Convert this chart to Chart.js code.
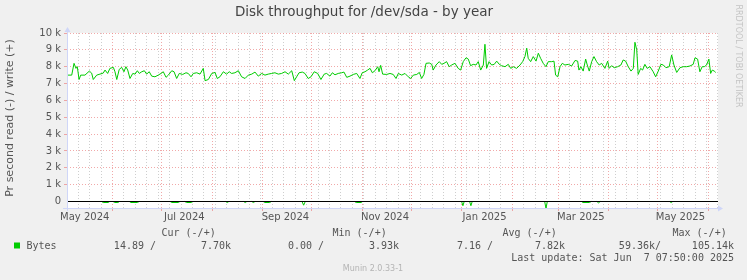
<!DOCTYPE html>
<html>
<head>
<meta charset="utf-8">
<title>Disk throughput for /dev/sda - by year</title>
<script src="https://cdn.jsdelivr.net/npm/chart.js@4.4.1/dist/chart.umd.min.js"></script>
<style>
  html, body { margin: 0; padding: 0; background: #f0f0f0; }
  canvas { display: block; }
</style>
</head>
<body>
<canvas id="chart" width="747" height="280"></canvas>
<script>
"use strict";

// x values are days since the start of the graph (3 May 2024 08:00 UTC)
let writeDays = [
  0.8, 3.7, 5.1, 6.3, 7.1, 8.2, 9.2, 11.8, 14.5, 15.9, 16.9, 19.0, 21.0, 23.0, 24.1, 25.7, 27.1, 29.2, 30.2, 31.3,
  32.8, 34.3, 35.7, 36.9, 38.0, 39.4, 41.1, 42.5, 43.9, 45.1, 46.6, 48.2, 49.6, 51.2, 52.7, 54.7, 56.7, 58.4, 59.8, 61.5,
  62.9, 65.0, 66.4, 68.0, 69.6, 71.7, 73.7, 75.1, 76.8, 78.2, 80.3, 82.3, 84.3, 85.4, 87.4, 89.5, 91.5, 92.9, 94.5, 96.6,
  98.6, 100.2,
  101.7, 103.7, 105.8, 107.8, 109.9, 111.9, 114.0, 116.0, 118.0, 120.1, 122.1, 124.1, 126.2, 128.2, 130.3, 132.3, 134.4, 136.4, 138.5, 140.1,
  141.5, 143.0, 145.0, 146.6, 148.6, 150.3, 152.3, 154.4, 156.4, 158.4, 159.9, 161.9, 163.4, 165.0, 167.0, 169.1, 170.5, 172.2, 174.2, 176.2,
  178.3, 180.3, 181.7, 183.4, 185.0, 186.5, 187.9, 189.5, 191.2, 192.0, 193.0, 194.2, 196.7,
  198.7, 200.7, 202.4, 203.8, 205.9, 207.9, 209.9, 211.4, 213.0, 215.1, 216.7, 218.1, 219.5, 220.8, 222.8, 224.3, 225.2, 226.9, 228.9, 230.4,
  231.8, 233.4, 235.0, 236.5, 238.5, 240.5, 242.0, 243.6, 245.3, 246.7, 248.1, 249.7, 251.4, 252.8, 254.3, 255.9, 256.9, 257.9, 259.4, 261.0,
  262.6, 264.1, 265.7, 267.1, 269.2, 271.2, 272.7, 274.3, 276.3, 278.4, 280.0, 281.4, 282.5, 283.4, 284.9, 286.5, 288.2, 289.6, 291.0, 292.6,
  294.3, 295.7, 297.8, 299.2, 300.2, 301.5,
  302.9, 304.3, 305.9, 308.0, 310.0, 312.1, 313.7, 314.5, 315.7, 317.1, 318.6, 319.6, 320.8, 322.3, 323.7, 325.3, 326.9, 328.4, 330.4, 332.1,
  333.0, 334.5, 336.1, 338.2, 340.2, 341.6, 343.1, 344.7, 346.4, 347.8, 348.8, 349.9, 350.8, 352.3, 353.5, 354.9, 356.3, 358.0, 360.0, 361.5,
  363.1, 364.7, 366.2, 367.8, 369.8, 371.3, 372.7, 374.4, 376.4, 378.4, 380.5, 382.5, 384.5, 385.6, 387.2, 388.6, 390.0, 391.3, 392.7, 394.1,
  395.2, 396.2, 397.4, 398.3
];
let writeBytes = [
  7500, 7500, 8200, 7900, 8000, 7240, 7500, 7500, 7740, 7620, 7240, 7500, 7560, 7620, 7800, 7600, 7900, 7960, 7700, 7240,
  7840, 7960, 7700, 8000, 7800, 7300, 7600, 7560, 7760, 7600, 7700, 7760, 7560, 7700, 7440, 7400, 7500, 7600, 7700, 7370,
  7500, 7760, 7700, 7300, 7600, 7540, 7640, 7600, 7400, 7600, 7640, 7560, 7900, 7170, 7240, 7600, 7660, 7300, 7400, 7700,
  7560, 7700,
  7600, 7640, 7760, 7400, 7300, 7500, 7560, 7680, 7440, 7600, 7500, 7560, 7600, 7640, 7560, 7600, 7700, 7560, 7760, 7170,
  7400, 7640, 7680, 7600, 7300, 7400, 7700, 7600, 7240, 7560, 7600, 7440, 7640, 7520, 7600, 7640, 7680, 7370, 7440, 7540,
  7600, 7300, 7640, 7700, 7800, 7900, 7640, 7760, 8000, 7700, 8080, 7560, 7540,
  7600, 7540, 7300, 7600, 7500, 7600, 7400, 7300, 7500, 7540, 7660, 7300, 7540, 8200, 8220, 8140, 7800, 8100, 8300, 8140,
  8200, 8300, 8000, 8100, 8200, 7900, 7800, 8300, 8530, 8450, 8060, 8140, 8100, 8300, 7800, 8100, 9330, 7900, 8300, 8100,
  8140, 8330, 8140, 8060, 8000, 8140, 7900, 8000, 7900, 8100, 8300, 8600, 9100, 8500, 8300, 8600, 8330, 8800, 8500, 8200,
  8000, 8300, 8300, 8330, 7500, 7400,
  8000, 8200, 8100, 8140, 8040, 8370, 8330, 7800, 8000, 7740, 8450, 8100, 7740, 8300, 8600, 8300, 8100, 8200, 7900, 8330,
  7900, 8060, 7940, 8000, 8100, 8400, 8330, 8000, 7740, 7900, 9450, 9000, 7540, 7900, 7800, 8140, 7900, 8000, 7700, 7400,
  7740, 8140, 8100, 7940, 8000, 8700, 8100, 7660, 7940, 8000, 8000, 8040, 8140, 8530, 8450, 7700, 8000, 8000, 8100, 8450,
  7600, 7800, 7740, 7660
];

// reads are drawn below zero
let readDays = [
  0.8, 22, 23, 26, 27, 29, 30, 32, 33, 39, 40, 44, 45, 64, 65, 69, 70, 73, 74, 77, 78, 98, 99, 100,
  109, 110, 111, 114, 115, 116, 121, 122, 125, 126, 144.8, 145.8, 146.8, 177, 178, 181, 182,
  242.6, 243.4, 244.2, 247.5, 248.3, 249.1, 293.5, 294.3, 295.1, 316, 317, 321, 322, 325.5, 326.5, 327.5,
  370, 371, 372, 399.7
];
let readBytes = [
  0, 0, -60, -60, 0, 0, -60, -60, 0, 0, -60, -60, 0, 0, -60, -60, 0, 0, -60, -60, 0, 0, -60, 0,
  0, -60, 0, 0, -60, 0, 0, -60, -60, 0, 0, -220, 0, 0, -60, -60, 0,
  0, -250, 0, 0, -250, 0, 0, -420, 0, 0, -60, -60, 0, 0, -80, 0,
  0, -60, 0, 0
];

let yLabels = ["0", "1 k", "2 k", "3 k", "4 k", "5 k", "6 k", "7 k", "8 k", "9 k", "10 k"];
let monthLines = ["2024-06", "2024-07", "2024-08", "2024-09", "2024-10", "2024-11", "2024-12",
  "2025-01", "2025-02", "2025-03", "2025-04", "2025-05", "2025-06"];
let monthLabels = ["May 2024", "Jul 2024", "Sep 2024", "Nov 2024", "Jan 2025", "Mar 2025", "May 2025"];

let legendHeads = ["Cur (-/+)", "Min (-/+)", "Avg (-/+)", "Max (-/+)"];
let legendRead = ["14.89 /", "0.00 /", "7.16 /", "59.36k/"];
let legendWrite = ["7.70k", "3.93k", "7.82k", "105.14k"];
let lastUpdate = "Last update: Sat Jun  7 07:50:00 2025";

const MONTHS = ["Jan", "Feb", "Mar", "Apr", "May", "Jun", "Jul", "Aug", "Sep", "Oct", "Nov", "Dec"];
const graphStart = Date.UTC(2024, 4, 3, 8, 0);
const X_MIN = 0.8;
const X_MAX = 399.7;

function dayOf(y, m, d) {
  return (Date.UTC(y, m, d) - graphStart) / 86400000;
}

//grid ticks for the time axis
let xTicks = [];
monthLines.forEach(function (s) {
  let parts = s.split("-");
  xTicks.push({ value: dayOf(+parts[0], +parts[1] - 1, 1), kind: "month" });
});
for (let d = dayOf(2024, 4, 4); d < X_MAX; d += 7) {
  let clash = xTicks.some(t => Math.abs(t.value - d) < 0.5);
  if (d > X_MIN && !clash) {
    xTicks.push({ value: d, kind: "week" });
  }
}
monthLabels.forEach(function (s) {
  let parts = s.split(" ");
  xTicks.push({ value: dayOf(+parts[1], MONTHS.indexOf(parts[0]), 15), kind: "label", text: s });
});
xTicks.sort((a, b) => a.value - b.value);

let yTicks = [];
for (let v = 0; v <= 10000; v += 500) yTicks.push(v);

const MGRID = "rgba(236, 140, 140, 0.75)";
const GRID = "rgba(190, 190, 190, 0.75)";
const AXIS = "#cfd6f8";
const FONT = "#555555";
const GREEN = "#00cc00";

function xGrid(tick) {
  if (!tick) return "transparent";
  if (tick.kind === "month") return MGRID;
  if (tick.kind === "week") return GRID;
  return "transparent";
}

function yGrid(tick) {
  if (!tick || tick.value === 0) return "transparent";
  return tick.value % 1000 === 0 ? MGRID : GRID;
}

let muninPlugin = {
  id: "munin",
  beforeDraw(chart) {
    let ctx = chart.ctx;
    let a = chart.chartArea;
    ctx.save();
    ctx.fillStyle = "#f0f0f0";
    ctx.fillRect(0, 0, chart.width, chart.height);
    ctx.fillStyle = "#ffffff";
    ctx.fillRect(a.left, a.top, a.right - a.left, a.bottom - a.top);
    ctx.restore();
  },
  afterDatasetsDraw(chart) {
    let ctx = chart.ctx;
    let a = chart.chartArea;
    let y0 = Math.floor(chart.scales.y.getPixelForValue(0)) + 0.5;
    ctx.save();
    // zero line
    ctx.strokeStyle = "#000000";
    ctx.lineWidth = 1;
    ctx.beginPath();
    ctx.moveTo(a.left, y0);
    ctx.lineTo(a.right, y0);
    ctx.stroke();
    // axes with arrows
    ctx.strokeStyle = AXIS;
    ctx.fillStyle = AXIS;
    ctx.beginPath();
    ctx.moveTo(a.left - 4, a.bottom + 0.5);
    ctx.lineTo(a.right + 2, a.bottom + 0.5);
    ctx.moveTo(a.left + 0.5, a.bottom + 3);
    ctx.lineTo(a.left + 0.5, a.top - 3);
    ctx.stroke();
    ctx.beginPath();
    ctx.moveTo(a.right + 5, a.bottom + 0.5);
    ctx.lineTo(a.right, a.bottom - 2.5);
    ctx.lineTo(a.right, a.bottom + 3.5);
    ctx.closePath();
    ctx.fill();
    ctx.beginPath();
    ctx.moveTo(a.left + 0.5, a.top - 6);
    ctx.lineTo(a.left - 2.5, a.top - 1);
    ctx.lineTo(a.left + 3.5, a.top - 1);
    ctx.closePath();
    ctx.fill();
    ctx.restore();
  },
  afterDraw(chart) {
    let ctx = chart.ctx;
    ctx.save();
    ctx.textBaseline = "middle";

    ctx.fillStyle = "#444444";
    ctx.font = "13.5px 'DejaVu Sans'";
    ctx.textAlign = "center";
    ctx.fillText("Disk throughput for /dev/sda - by year", 364, 12);

    ctx.save();
    ctx.translate(10, 118);
    ctx.rotate(-Math.PI / 2);
    ctx.fillStyle = FONT;
    ctx.font = "11px 'DejaVu Sans'";
    ctx.fillText("Pr second read (-) / write (+)", 0, 0);
    ctx.restore();

    ctx.save();
    ctx.translate(738.5, 56);
    ctx.rotate(Math.PI / 2);
    ctx.fillStyle = "#c4c4c4";
    ctx.font = "8px 'DejaVu Sans'";
    ctx.fillText("RRDTOOL / TOBI OETIKER", 0, 0);
    ctx.restore();

    // legend table
    ctx.fillStyle = FONT;
    ctx.font = "10px 'DejaVu Sans Mono'";
    let headX = [162, 333, 503, 673];
    let readX = [156, 324, 493, 661];
    let writeX = [231, 399, 565, 734];
    ctx.textAlign = "left";
    for (let i = 0; i < legendHeads.length; i++) {
      ctx.fillText(legendHeads[i], headX[i] - 0.5, 233);
    }
    ctx.fillText("Bytes", 26.5, 246);
    ctx.textAlign = "right";
    for (let i = 0; i < legendRead.length; i++) {
      ctx.fillText(legendRead[i], readX[i], 246);
      ctx.fillText(legendWrite[i], writeX[i], 246);
    }
    ctx.fillText(lastUpdate, 734, 258);
    ctx.fillStyle = GREEN;
    ctx.fillRect(14, 242.5, 6, 6);

    ctx.fillStyle = "#b4b4b4";
    ctx.font = "8px 'DejaVu Sans'";
    ctx.textAlign = "center";
    ctx.fillText("Munin 2.0.33-1", 373, 269);
    ctx.restore();
  }
};

Chart.defaults.font.family = "'DejaVu Sans', sans-serif";
Chart.defaults.font.size = 10;

let ctx = document.getElementById("chart").getContext("2d");
let myChart = new Chart(ctx, {
  type: "line",
  data: {
    datasets: [{
      label: "read",
      data: readDays.map((d, i) => ({ x: d, y: readBytes[i] })),
      borderColor: GREEN,
      borderWidth: 1,
      pointRadius: 0,
      tension: 0
    },
    {
      label: "write",
      data: writeDays.map((d, i) => ({ x: d, y: writeBytes[i] })),
      borderColor: GREEN,
      borderWidth: 1,
      pointRadius: 0,
      tension: 0
    }]
  },
  options: {
    responsive: false,
    animation: false,
    devicePixelRatio: 1,
    events: [],
    layout: { padding: { top: 33, right: 29, left: 0, bottom: 0 } },
    plugins: {
      legend: { display: false },
      tooltip: { enabled: false }
    },
    scales: {
      x: {
        type: "linear",
        min: X_MIN,
        max: X_MAX,
        afterBuildTicks: function (scale) {
          scale.ticks = xTicks.map(t => Object.assign({}, t));
        },
        afterFit: function (scale) {
          scale.height = 72;
        },
        grid: {
          color: c => xGrid(c.tick),
          tickColor: c => (c.tick && c.tick.kind === "month" ? MGRID : "transparent"),
          tickLength: 3,
          lineWidth: 1
        },
        border: { display: false, dash: [1, 2] },
        ticks: {
          autoSkip: false,
          maxRotation: 0,
          padding: 0,
          color: FONT,
          callback: function (value, index, ticks) {
            return ticks[index].text || "";
          }
        }
      },
      y: {
        min: -386,
        max: 10000,
        afterBuildTicks: function (scale) {
          scale.ticks = yTicks.map(v => ({ value: v }));
        },
        afterFit: function (scale) {
          scale.width = 67;
        },
        grid: {
          color: c => yGrid(c.tick),
          tickColor: c => (c.tick && c.tick.value % 1000 === 0 && c.tick.value !== 0 ? MGRID : "transparent"),
          tickLength: 3,
          lineWidth: 1
        },
        border: { display: false, dash: [1, 2] },
        ticks: {
          padding: 3,
          color: FONT,
          callback: function (value) {
            return value % 1000 === 0 ? yLabels[value / 1000] : "";
          }
        }
      }
    }
  },
  plugins: [muninPlugin]
});
</script>
</body>
</html>
